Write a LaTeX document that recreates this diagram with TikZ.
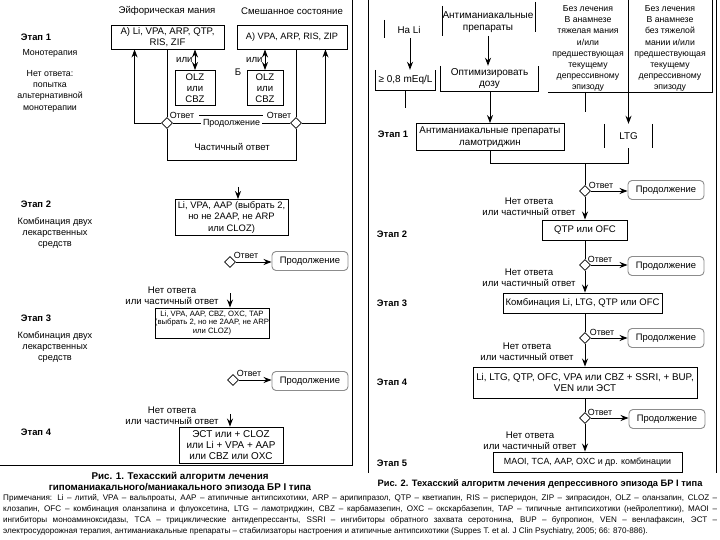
\documentclass[tikz,border=0pt]{standalone}
\usepackage{fontspec}
\setmainfont{Liberation Sans}
\usetikzlibrary{arrows.meta,shapes.geometric,calc}
\newcommand{\fsz}[1]{\fontsize{#1}{11.3}\selectfont}
\newcommand{\fn}{\fontsize{8.1}{9}\selectfont}
\begin{document}
\begin{tikzpicture}[x=1pt,y=-1pt,
  txt/.style={font=\fsz{9.6}, inner sep=0pt, align=center},
  stagelbl/.style={font=\fsz{9.4}\bfseries, inner sep=0pt},
  box/.style={draw, line width=0.9pt, font=\fsz{9.6}, align=center, inner sep=0pt},
  bare/.style={font=\fsz{9.8}, align=center, inner sep=0pt},
  prod/.style={draw=black!45, line width=0.9pt, rounded corners=4pt, font=\fsz{9.4}, minimum width=76pt, minimum height=19pt, inner sep=0pt},
  dia/.style={draw, diamond, fill=white, line width=0.6pt, minimum size=11pt, inner sep=0pt},
  ln/.style={line width=0.9pt},
  arr/.style={line width=0.9pt, -{Stealth[length=8pt,width=6pt]}},
  dblarr/.style={line width=0.9pt, {Stealth[length=8pt,width=6pt]}-{Stealth[length=8pt,width=6pt]}},
  fnote/.style={font=\fn, inner sep=0pt, anchor=west}
]
\useasboundingbox (0,0) rectangle (720,540);

% ================= LEFT PANEL =================
\draw[ln] (352,0) -- (352,465) -- (0,465);

\node[txt] (hdr1) at (167,11) {Эйфорическая мания};
\node[txt] (hdr2) at (292,11) {Смешанное состояние};

\node[stagelbl] (e1) at (36,37) {Этап 1};
\node[txt, font=\fsz{8.8}] (mono) at (50,53) {Монотерапия};
\node[txt, font=\fsz{8.8}] (noresp) at (50,91) {Нет ответа:\\попытка\\альтернативной\\монотерапии};

\node[box, minimum width=113pt, minimum height=24pt] (A1) at (167.5,37) {А) Li, VPA, ARP, QTP,\\RIS, ZIF};
\node[box, font=\fsz{9.2}, minimum width=110pt, minimum height=24pt] (A2) at (292,37) {А) VPA, ARP, RIS, ZIP};
\node[box, minimum width=40pt, minimum height=35pt] (B1) at (195,88) {OLZ\\или\\CBZ};
\node[box, minimum width=36pt, minimum height=35pt] (B2) at (265,88) {OLZ\\или\\CBZ};
\node[txt] (bb) at (238,72) {Б};

\draw[dblarr] (B1.north) -- node[txt, left=2pt] {или} (B1.north |- A1.south);
\draw[dblarr] (B2.north) -- node[txt, left=2pt] {или} (B2.north |- A2.south);

\node[dia] (dL) at (167,123) {};
\node[dia] (dR) at (296,123) {};
\draw[ln] (A1.south -| dL.north) -- (dL.north);
\draw[ln] (A2.south -| dR.north) -- (dR.north);
\draw[arr] (dL.west) -| ($(A1.south west)+(24,0)$);
\draw[arr] (dR.east) -| ($(A2.south east)+(-22,0)$);
\draw[ln] (dL.south) -- ++(0,32) -| (dR.south);
\node[txt] (part) at (232,147) {Частичный ответ};
\draw[ln] (dL.east) -- node[txt, font=\fsz{8.9}, fill=white, inner xsep=2pt] {Продолжение} (dR.west);
\node[txt, font=\fsz{8.9}] (oL) at (182,115) {Ответ};
\node[txt, font=\fsz{8.9}] (oR) at (279,115) {Ответ};
\draw[ln] ($(oL.east)+(5,0)$) -- ($(oR.west)+(-4,0)$);

% stage 2 left
\node[stagelbl] (e2) at (36,204) {Этап 2};
\node[txt, font=\fsz{9.2}] (comb2) at (55,233) {Комбинация двух\\лекарственных\\средств};
\node[box, font=\fsz{9.4}, minimum width=113pt, minimum height=36pt] (S2L) at (231.5,217.5) {Li, VPA, AAP (выбрать 2,\\но не 2AAP, не ARP\\или CLOZ)};
\coordinate (c2) at (238,187);
\draw[arr] (c2) -- (c2 |- S2L.north);
\node[dia] (dL2) at (230,262) {};
\node[prod] (pL2) at (310,261) {Продолжение};
\draw[arr] (dL2.east) -- (dL2.east -| pL2.west);
\node[txt, font=\fsz{8.9}] (oL2) at (246,255) {Ответ};
\node[txt] (nr2) at (172,296) {Нет ответа\\или частичный ответ};

% stage 3 left
\node[stagelbl] (e3) at (36,318) {Этап 3};
\node[txt, font=\fsz{9.2}] (comb3) at (55,347) {Комбинация двух\\лекарственных\\средств};
\node[box, font=\fontsize{7.7}{8.9}\selectfont, minimum width=111pt, minimum height=30pt] (S3L) at (212,323) {Li, VPA, AAP, CBZ, OXC, TAP\\(выбрать 2, но не 2AAP, не ARP\\или CLOZ)};
\coordinate (c3) at (230,293);
\draw[arr] (c3) -- (c3 |- S3L.north);
\node[dia] (dL3) at (233,380) {};
\node[prod] (pL3) at (310,381) {Продолжение};
\draw[arr] (dL3.east) -- (dL3.east -| pL3.west);
\node[txt, font=\fsz{8.9}] (oL3) at (249,373) {Ответ};
\node[txt] (nr3) at (172,416) {Нет ответа\\или частичный ответ};

% stage 4 left
\node[stagelbl] (e4) at (36,432) {Этап 4};
\node[box, font=\fsz{9.9}, minimum width=104pt, minimum height=36pt] (S4L) at (231,445) {ЭСТ или + CLOZ\\или Li + VPA + AAP\\или CBZ или OXC};
\coordinate (c4) at (230,414);
\draw[arr] (c4) -- (c4 |- S4L.north);

\node[txt, font=\fontsize{9.8}{11.2}\selectfont\bfseries] (cap1) at (180,482) {Рис. 1. Техасский алгоритм лечения\\гипоманиакального/маниакального эпизода БР I типа};

% ================= RIGHT PANEL =================
\draw[ln] (368,0) -- (368,473);
\draw[ln] (716,0) -- (716,473);

% header
\node[bare] (naLi) at (409,30) {На Li};
\draw[ln] (384,20) -- (384,38);
\node[bare, font=\fsz{10}, minimum width=59pt, minimum height=20pt] (mEq) at (405.5,80) {≥ 0,8 mEq/L};
\draw[ln] (mEq.north west) -- (mEq.south west) -- (mEq.south east) -- (mEq.north east);
\coordinate (naLiB) at (410,38);
\draw[arr] (naLiB) -- (naLiB |- mEq.north);
\draw[ln] (mEq.south) -- ++(0,18);

\node[bare, font=\fsz{10}] (anti) at (488,22) {Антиманиакальные\\препараты};
\draw[ln] (442,6) -- (442,36);
\draw[ln] (535,2) -- (535,32);
\node[bare, font=\fsz{10}, minimum width=97pt, minimum height=25pt] (opt) at (489.5,78.5) {Оптимизировать\\дозу};
\draw[ln] (opt.north west) -- (opt.south west) -- (opt.south east) -- (opt.north east);
\coordinate (antiB) at (488,36);
\draw[arr] (antiB) -- (antiB |- opt.north);

\node[box, font=\fsz{9.8}, minimum width=148pt, minimum height=27pt] (S1R) at (490,137) {Антиманиакальные препараты\\ламотриджин};
\draw[arr] (opt.south -| S1R.north) -- (S1R.north);

\node[txt, font=\fontsize{8.7}{11.1}\selectfont] (h1) at (588,48.5) {Без лечения\\В анамнезе\\тяжелая мания\\и/или\\предшествующая\\текущему\\депрессивному\\эпизоду};
\node[txt, font=\fontsize{8.7}{11.1}\selectfont] (h2) at (670,48.5) {Без лечения\\В анамнезе\\без тяжелой\\мании и/или\\предшествующая\\текущему\\депрессивному\\эпизоду};
\draw[ln] (548,92) -- (712,92) -- (712,0);
\draw[ln] (628,0) -- (628,92);
\draw[ln] (585,92) -- (585,112);

\node[bare, minimum width=47pt, minimum height=24pt] (ltg) at (628.5,136) {LTG};
\draw[ln] (ltg.north west) -- (ltg.south west);
\draw[ln] (ltg.north east) -- (ltg.south east);
\draw[arr] (628.5,92) -- (ltg.north);

\node[stagelbl] (r1) at (393,134) {Этап 1};

% flow
\node[dia] (d1) at (585,191) {};
\draw[ln] (S1R.south) -- ++(0,13) coordinate (m1) -| (ltg.south);
\draw[ln] (m1 -| d1.north) -- (d1.north);
\node[prod] (p1) at (666,190) {Продолжение};
\draw[arr] (d1.east) -- (d1.east -| p1.west);
\node[txt, font=\fsz{8.9}] (o1) at (601,185) {Ответ};
\node[txt] (n1) at (529,207) {Нет ответа\\или частичный ответ};

\node[stagelbl] (r2) at (392,234) {Этап 2};
\node[box, minimum width=85pt, minimum height=20pt] (S2R) at (585,230) {QTP или OFC};
\draw[arr] (d1.south) -- (d1.south |- S2R.north);

\node[dia] (d2) at (585,265) {};
\draw[ln] (S2R.south -| d2.north) -- (d2.north);
\node[prod] (p2) at (666,266) {Продолжение};
\draw[arr] (d2.east) -- (d2.east -| p2.west);
\node[txt, font=\fsz{8.9}] (o2) at (600,259) {Ответ};
\node[txt] (n2) at (529,278) {Нет ответа\\или частичный ответ};

\node[stagelbl] (r3) at (392,303) {Этап 3};
\node[box, font=\fsz{9.5}, minimum width=159pt, minimum height=20pt] (S3R) at (582.5,303) {Комбинация Li, LTG, QTP или OFC};
\draw[arr] (d2.south) -- (d2.south |- S3R.north);

\node[dia] (d3) at (585,338) {};
\draw[ln] (S3R.south -| d3.north) -- (d3.north);
\node[prod] (p3) at (666,338) {Продолжение};
\draw[arr] (d3.east) -- (d3.east -| p3.west);
\node[txt, font=\fsz{8.9}] (o3) at (602,332) {Ответ};
\node[txt] (n3) at (527,352) {Нет ответа\\или частичный ответ};

\node[stagelbl] (r4) at (392,382) {Этап 4};
\node[box, font=\fsz{9.8}, minimum width=224pt, minimum height=31pt] (S4R) at (585,382.5) {Li, LTG, QTP, OFC, VPA или CBZ + SSRI, + BUP,\\VEN или ЭСТ};
\draw[arr] (d3.south) -- (d3.south |- S4R.north);

\node[dia] (d4) at (585,418) {};
\draw[ln] (S4R.south -| d4.north) -- (d4.north);
\node[prod] (p4) at (667,419) {Продолжение};
\draw[arr] (d4.east) -- (d4.east -| p4.west);
\node[txt, font=\fsz{8.9}] (o4) at (600,412) {Ответ};
\node[txt] (n4) at (530,441) {Нет ответа\\или частичный ответ};

\node[stagelbl] (r5) at (392,463) {Этап 5};
\node[box, font=\fsz{8.9}, minimum width=189pt, minimum height=20pt] (S5R) at (587.5,462) {MAOI, TCA, AAP, OXC и др. комбинации};
\draw[arr] (d4.south) -- (d4.south |- S5R.north);

\node[txt, font=\fontsize{9.3}{11}\selectfont\bfseries] (cap2) at (540,484) {Рис. 2. Техасский алгоритм лечения депрессивного эпизода БР I типа};

% ================= FOOTNOTE =================
\node[fnote] (f1) at (3,498) {\makebox[714pt][s]{Примечания: Li – литий, VPA – вальпроаты, AAP – атипичные антипсихотики, ARP – арипипразол, QTP – кветиапин, RIS – рисперидон, ZIP – зипрасидон, OLZ – оланзапин, CLOZ –}};
\node[fnote] (f2) at (3,509) {\makebox[714pt][s]{клозапин, OFC – комбинация оланзапина и флуоксетина, LTG – ламотриджин, CBZ – карбамазепин, OXC – окскарбазепин, TAP – типичные антипсихотики (нейролептики), MAOI –}};
\node[fnote] (f3) at (3,520) {\makebox[714pt][s]{ингибиторы моноаминоксидазы, TCA – трициклические антидепрессанты, SSRI – ингибиторы обратного захвата серотонина, BUP – бупропион, VEN – венлафаксин, ЭСТ –}};
\node[fnote] (f4) at (3,531) {электросудорожная терапия, антиманиакальные препараты – стабилизаторы настроения и атипичные антипсихотики (Suppes T. et al. J Clin Psychiatry, 2005; 66: 870-886).};
\end{tikzpicture}
\end{document}
